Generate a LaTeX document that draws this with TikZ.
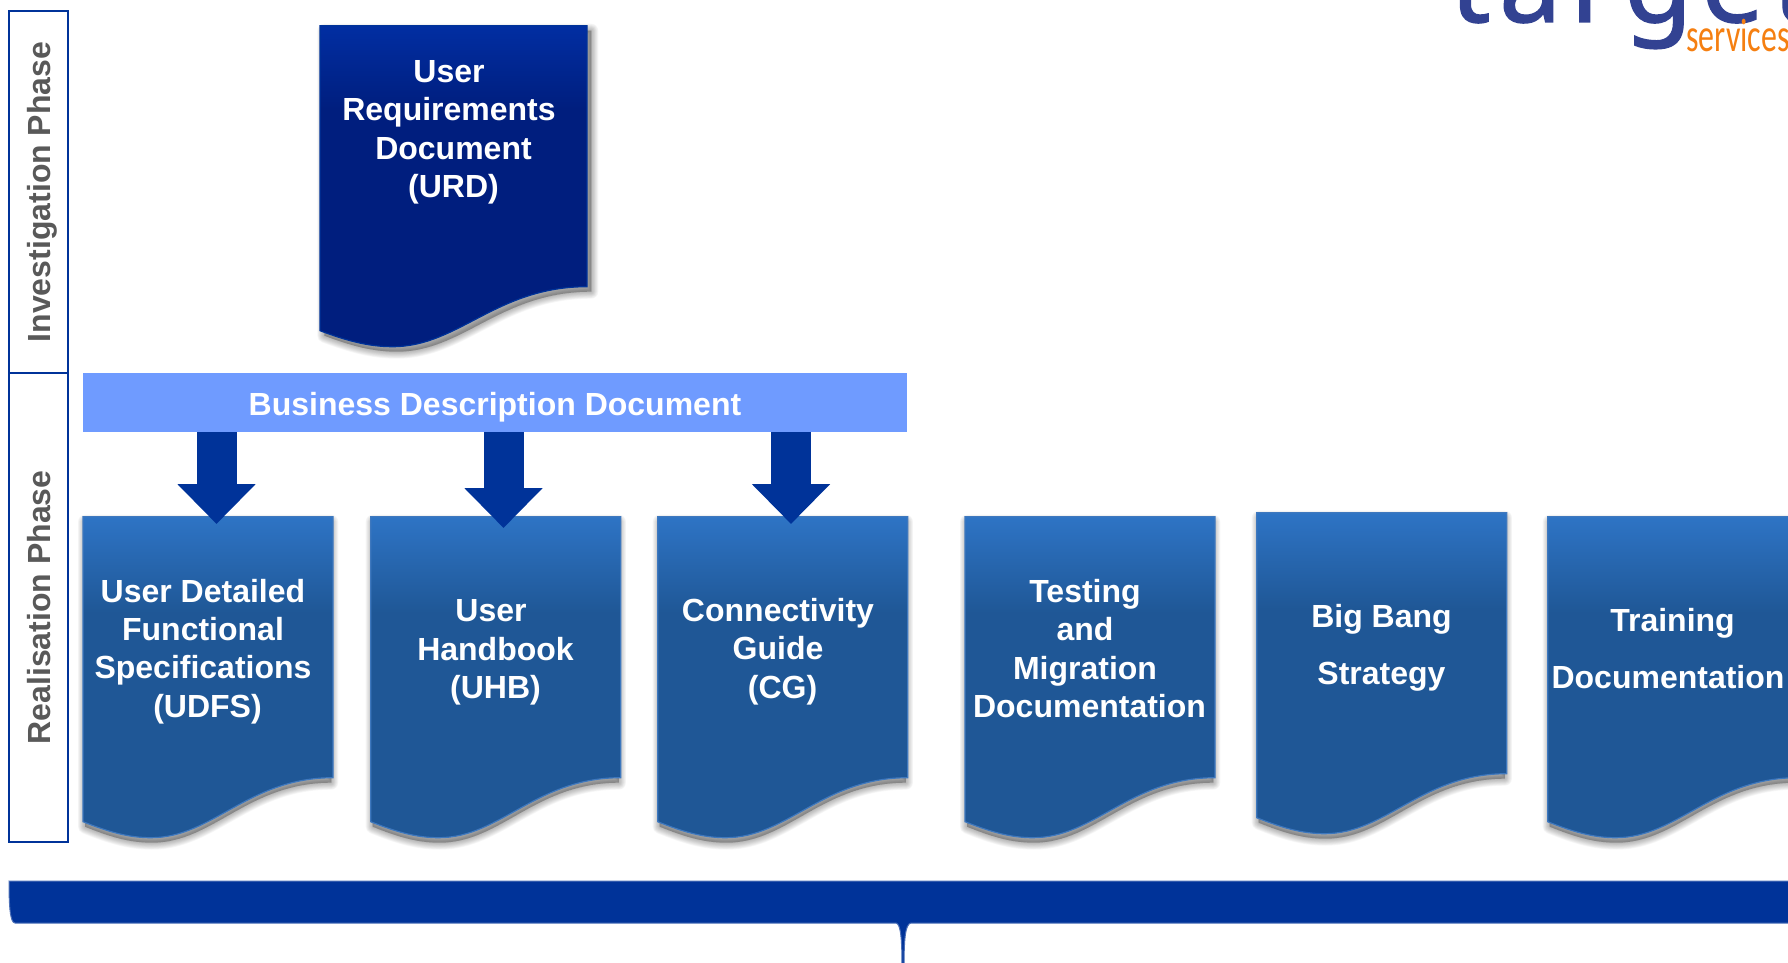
\documentclass[tikz,border=0pt]{standalone}
\usepackage{fontspec}
\setmainfont{Liberation Sans}
\newfontfamily\logofont[LetterSpace=7.5,FakeBold=1.2]{Noto Sans}
\newfontfamily\servfont{Carlito}
\usepackage{tikz}
\usetikzlibrary{calc,arrows.meta}

\definecolor{eurblue}{RGB}{0,51,153}
\definecolor{barblue}{RGB}{111,155,255}
\definecolor{doctop}{RGB}{46,116,197}
\definecolor{docmid}{RGB}{31,87,150}
\definecolor{docline}{RGB}{62,120,190}
\definecolor{urdtop}{RGB}{1,46,162}
\definecolor{urdmid}{RGB}{0,30,126}
\definecolor{phasegray}{RGB}{89,89,89}
\definecolor{logoblue}{RGB}{50,66,146}
\definecolor{logoorange}{RGB}{245,127,17}

\pgfdeclareverticalshading{docshade}{100bp}{color(0bp)=(docmid); color(60bp)=(docmid); color(75bp)=(doctop); color(100bp)=(doctop)}
\pgfdeclareverticalshading{urdshade}{100bp}{color(0bp)=(urdmid); color(62bp)=(urdmid); color(75bp)=(urdtop); color(100bp)=(urdtop)}

\newcommand{\docpath}{(0,0) -- (250,0) -- (250,261) .. controls (165,261) and (130,321) .. (68,321) .. controls (45,321) and (25,315) .. (0,305) -- cycle}
\newcommand{\tsp}{\kern9pt\relax}

\tikzset{
	doctext/.style={text=white,font=\fontsize{32}{38.4}\selectfont\bfseries,align=center,inner sep=0pt},
	phasebox/.style={draw=eurblue,line width=1.6pt,rotate=90,minimum width=#1,minimum height=59pt,inner sep=0pt,
		text=phasegray,text height=23pt,text depth=0pt,font=\fontsize{32}{38.4}\selectfont\bfseries},
	blockarrow/.style={eurblue,line width=40pt,-{Triangle[width=76pt,length=40pt]}}
}

\begin{document}
\begin{tikzpicture}[x=1pt,y=-1pt]
	\useasboundingbox (0,0) rectangle (1788,963);

	% logo at the top edge
	\node [logoblue,anchor=base west,inner sep=0pt,font=\logofont\fontsize{112}{112}\selectfont](LOGO) at (1450,22) {target};
	\node [logoorange,anchor=base west,inner sep=0pt,xscale=.68,transform shape,font=\servfont\fontsize{47}{47}\selectfont](SERV) at (1686,52) {services};

	% phases
	\node [phasebox=362pt](INV) at (38.5,192) {Investigation Phase};
	\node [phasebox=469pt](REAL) at (38.5,607.5) {Realisation Phase};

	% documents with their shadows
	\foreach \x/\y/\w/\sx/\sc/\sh/\ln in {320/25.7/1.068/4/1/urdshade/eurblue,83/516.7/1/2/.985/docshade/docline,370.7/516.7/1/2/.985/docshade/docline,657.7/516.7/1/2/.985/docshade/docline,965/516.7/1/2/.985/docshade/docline,1256.7/512.7/1/2/.985/docshade/docline,1547.7/516.7/1/2/.985/docshade/docline}{
		\begin{scope}[shift={(\x,\y)},xscale=\w]
			\foreach \i in {1,...,10}
				\fill [black,opacity=.03,draw=black,line width=\i*1.4pt,line join=round,shift={(\sx,5)},xscale=\sc] \docpath;
			\path [shade,shading=\sh,draw=\ln,line width=1.2pt] \docpath;
		\end{scope}
	}

	\node [doctext](URD) at (453.5,132.4) {User\tsp\\Requirements\tsp\\Document\\(URD)};
	\node [doctext](UDFS) at (207.5,651.4) {User Detailed\tsp\\Functional\tsp\\Specifications\tsp\\(UDFS)};
	\node [doctext](UHB) at (495.5,652.4) {User\tsp\\Handbook\\(UHB)};
	\node [doctext](CG) at (782.5,651.4) {Connectivity\tsp\\Guide\tsp\\(CG)};
	\node [doctext](TMD) at (1089.5,648.4) {Testing\tsp\\and\tsp\\Migration\tsp\\Documentation};
	\node [doctext](BBS) at (1381.5,647.4) {Big Bang\\[18.6pt]Strategy};
	\node [doctext](TRD) at (1672.5,649) {Training\\[18.6pt]Documentation\tsp};

	% business description bar and arrows
	\node [fill=barblue,minimum width=824pt,minimum height=59pt,inner sep=0pt,text=white,text height=25.5pt,text depth=0pt,font=\fontsize{32}{38.4}\selectfont\bfseries](BDD) at (495,402.5) {Business Description Document};

	\coordinate (TIPA) at (216.5,524);
	\coordinate (TIPB) at (503.5,528);
	\coordinate (TIPC) at (791,524);
	\draw [blockarrow] (BDD.south -| TIPA) -- (TIPA);
	\draw [blockarrow] (BDD.south -| TIPB) -- (TIPB);
	\draw [blockarrow] (BDD.south -| TIPC) -- (TIPC);

	% brace at the bottom
	\path [fill=eurblue,draw=eurblue!70!white,line width=1pt] (9,881) -- (1800,881) -- (1800,923) -- (911,923)
		.. controls (905,924) and (904,940) .. (904,970) -- (902,970)
		.. controls (902,940) and (901,924) .. (896,923) -- (15,923)
		.. controls (10,923) and (9,905) .. (9,881) -- cycle;
\end{tikzpicture}
\end{document}
